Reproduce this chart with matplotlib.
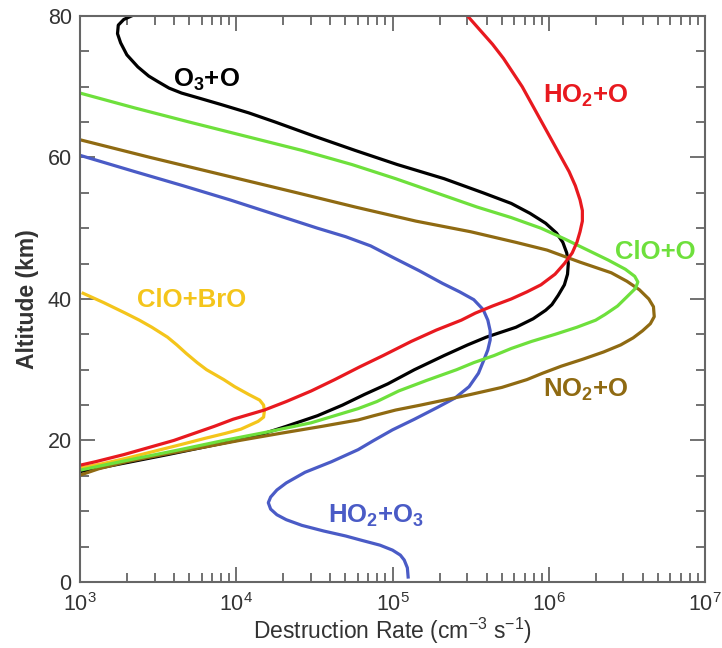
import numpy as np
import matplotlib
matplotlib.use("Agg")
import matplotlib.pyplot as plt
from matplotlib.ticker import MultipleLocator, LogLocator

plt.rcParams['font.family'] = ['Liberation Sans', 'DejaVu Sans']
plt.rcParams['mathtext.fontset'] = 'custom'
plt.rcParams['mathtext.rm'] = 'Liberation Sans'
plt.rcParams['mathtext.bf'] = 'Liberation Sans:bold'
plt.rcParams['mathtext.default'] = 'regular'

# altitude (km) and log10 of destruction rate (cm-3 s-1)
o3_o_alt = [80, 79.5, 78.7, 77.5, 76.2, 74.5, 72.8, 71.5, 70.7, 69.8, 69.1, 68.4, 67.5, 66.3, 65, 63,
            61, 59, 57, 55, 53.5, 52.1, 50.7, 49.3, 48, 46.5, 45, 43.5, 42, 40.5, 39.2, 38.4, 37.2,
            36, 34.6, 33.5, 32, 30, 28, 26.5, 25, 23.5, 22, 21, 20, 19, 18, 17, 16, 15.6]
o3_o_log = [3.33, 3.28, 3.245, 3.24, 3.26, 3.30, 3.37, 3.44, 3.50, 3.57, 3.65, 3.76, 3.90, 4.08, 4.25, 4.50,
            4.76, 5.03, 5.33, 5.58, 5.76, 5.88, 5.98, 6.05, 6.09, 6.115, 6.125, 6.12, 6.10, 6.06, 6.02, 5.98, 5.90,
            5.79, 5.60, 5.48, 5.33, 5.14, 4.97, 4.82, 4.68, 4.52, 4.32, 4.18, 4.0, 3.78, 3.56, 3.33, 3.1, 3.0]

ho2_o_alt = [80, 78, 76, 74, 72, 70, 68, 66, 64, 62, 60, 58, 56, 54, 52.5, 51, 49.5, 48, 46.5, 45,
             43.5, 42, 41, 40, 39, 38, 37, 35.6, 34, 32, 30.4, 28.6, 27, 25.5, 24.3, 23, 22, 21, 20,
             19, 18, 17, 16.5]
ho2_o_log = [5.48, 5.56, 5.64, 5.71, 5.77, 5.83, 5.88, 5.93, 5.98, 6.03, 6.08, 6.13, 6.17, 6.20, 6.215, 6.215,
             6.20, 6.18, 6.15, 6.10, 6.04, 5.95, 5.86, 5.76, 5.64, 5.53, 5.44, 5.28, 5.12, 4.94, 4.79, 4.63,
             4.48, 4.32, 4.18, 3.98, 3.86, 3.73, 3.6, 3.44, 3.28, 3.1, 3.0]

clo_o_alt = [69.1, 67, 65, 63, 61, 59, 57, 55, 53, 51.5, 50, 48.5, 47, 45.5, 44.2, 43.2, 42.4, 41.5,
             40.3, 39, 37.8, 37, 36, 35, 34, 33, 32, 31, 30, 28.5, 27, 25.5, 24.5, 23.5, 22.5, 21.2,
             20, 18.7, 17.5, 16.5, 15.8]
clo_o_log = [3.0, 3.35, 3.70, 4.06, 4.42, 4.74, 5.02, 5.28, 5.54, 5.76, 5.95, 6.10, 6.24, 6.38, 6.49, 6.55,
             6.57, 6.555, 6.50, 6.44, 6.36, 6.30, 6.18, 6.04, 5.89, 5.76, 5.65, 5.52, 5.41, 5.22, 5.04,
             4.9, 4.78, 4.63, 4.48, 4.2, 3.92, 3.64, 3.37, 3.15, 3.0]

no2_o_alt = [62.5, 60, 57.5, 55, 53, 51, 49.5, 48, 46.9, 45.2, 43.7, 42.5, 41.3, 40, 38.9, 37.5, 36.5,
             35.5, 34.5, 33.5, 32.5, 31.5, 30.5, 29.5, 28.6, 27.5, 26.5, 25.7, 25, 24.3, 23.5, 22.9,
             22, 21, 20, 19, 18, 17, 16, 15.1]
no2_o_log = [3.0, 3.45, 3.92, 4.39, 4.76, 5.15, 5.50, 5.79, 5.99, 6.2, 6.40, 6.50, 6.58, 6.64, 6.67, 6.675,
             6.65, 6.60, 6.54, 6.46, 6.35, 6.22, 6.08, 5.96, 5.86, 5.70, 5.50, 5.33, 5.18, 5.02, 4.88,
             4.78, 4.55, 4.28, 4.02, 3.78, 3.53, 3.3, 3.12, 3.0]

ho2_o3_alt = [60.3, 58, 56, 54, 52, 50, 48.8, 47.5, 45.9, 44, 42.2, 41, 39.9, 38.5, 37, 35.5, 34.2, 32.8,
              31.4, 29.5, 27.6, 26, 24.7, 23, 21.5, 20, 18.7, 17, 15.5, 14, 13, 12, 11.2, 10.3, 9.5,
              8.8, 8, 7.2, 6.5, 5.9, 5.2, 4.5, 3.8, 3.1, 2, 0.7]
ho2_o3_log = [3.0, 3.35, 3.66, 3.96, 4.24, 4.52, 4.70, 4.86, 5.0, 5.17, 5.32, 5.43, 5.52, 5.58, 5.61, 5.625,
              5.625, 5.61, 5.585, 5.55, 5.49, 5.40, 5.29, 5.14, 5.00, 4.88, 4.78, 4.61, 4.44, 4.32, 4.26,
              4.22, 4.205, 4.22, 4.26, 4.32, 4.42, 4.56, 4.70, 4.80, 4.92, 5.0, 5.05, 5.075, 5.095, 5.10]

clo_bro_alt = [40.8, 39.5, 38, 37, 36, 34.6, 33.5, 32.3, 31, 30, 28.6, 27.6, 26.5, 25.7, 25, 24.2, 23.3,
               22.7, 22.2, 21.6, 21, 20.3, 19.5, 18.5, 17.5, 16.7, 16.1]
clo_bro_log = [3.02, 3.15, 3.29, 3.38, 3.46, 3.56, 3.62, 3.68, 3.75, 3.81, 3.92, 3.99, 4.08, 4.15, 4.175,
               4.18, 4.175, 4.14, 4.09, 4.03, 3.93, 3.80, 3.66, 3.48, 3.30, 3.14, 3.0]

series = [
    (o3_o_log, o3_o_alt, 'black'),
    (clo_bro_log, clo_bro_alt, '#f4c51b'),
    (ho2_o3_log, ho2_o3_alt, '#4a5bc6'),
    (no2_o_log, no2_o_alt, '#8f6a12'),
    (clo_o_log, clo_o_alt, '#6ee03c'),
    (ho2_o_log, ho2_o_alt, '#e8191f'),
]

# label text, log10 x of left edge, baseline altitude, colour
labels = [
    ('O$_3$+O', 3.595, 70.0, 'black'),
    ('HO$_2$+O', 5.963, 67.7, '#e8191f'),
    ('ClO+O', 6.424, 45.65, '#6ee03c'),
    ('ClO+BrO', 3.365, 38.9, '#f4c51b'),
    ('NO$_2$+O', 5.963, 26.15, '#8f6a12'),
    ('HO$_2$+O$_3$', 4.587, 8.34, '#4a5bc6'),
]

fig = plt.figure(figsize=(7.22, 6.48), dpi=100)
ax = fig.add_axes([0.1108, 0.1019, 0.8657, 0.8735])

for lg, alt, c in series:
    ax.plot(10 ** np.array(lg), alt, color=c, lw=2.3, solid_joinstyle='round')

for txt, lx, ly, c in labels:
    ax.text(10 ** lx, ly, txt, color=c, fontsize=18.5, fontweight='bold', ha='left', va='baseline')

ax.set_xscale('log')
ax.set_xlim(1e3, 1e7)
ax.set_ylim(0, 80)
ax.yaxis.set_major_locator(MultipleLocator(20))
ax.yaxis.set_minor_locator(MultipleLocator(5))
ax.xaxis.set_minor_locator(LogLocator(base=10, subs=np.arange(2, 10)))

ax.tick_params(which='both', direction='in', top=True, right=True, color='#666666', width=1.3,
               labelcolor='#333333', labelsize=15.5)
ax.tick_params(which='major', length=11)
ax.tick_params(which='minor', length=6.5)
ax.tick_params(axis='y', pad=6)
ax.tick_params(axis='x', pad=8)
for s in ax.spines.values():
    s.set_color('#666666')
    s.set_linewidth(1.5)

ax.set_xlabel('Destruction Rate (cm$^{-3}$ s$^{-1}$)', fontsize=16.5, color='#333333', labelpad=0)
ax.set_ylabel('Altitude (km)', fontsize=16.5, fontweight='bold', color='#333333', labelpad=6)

fig.savefig('out.png', dpi=100)
